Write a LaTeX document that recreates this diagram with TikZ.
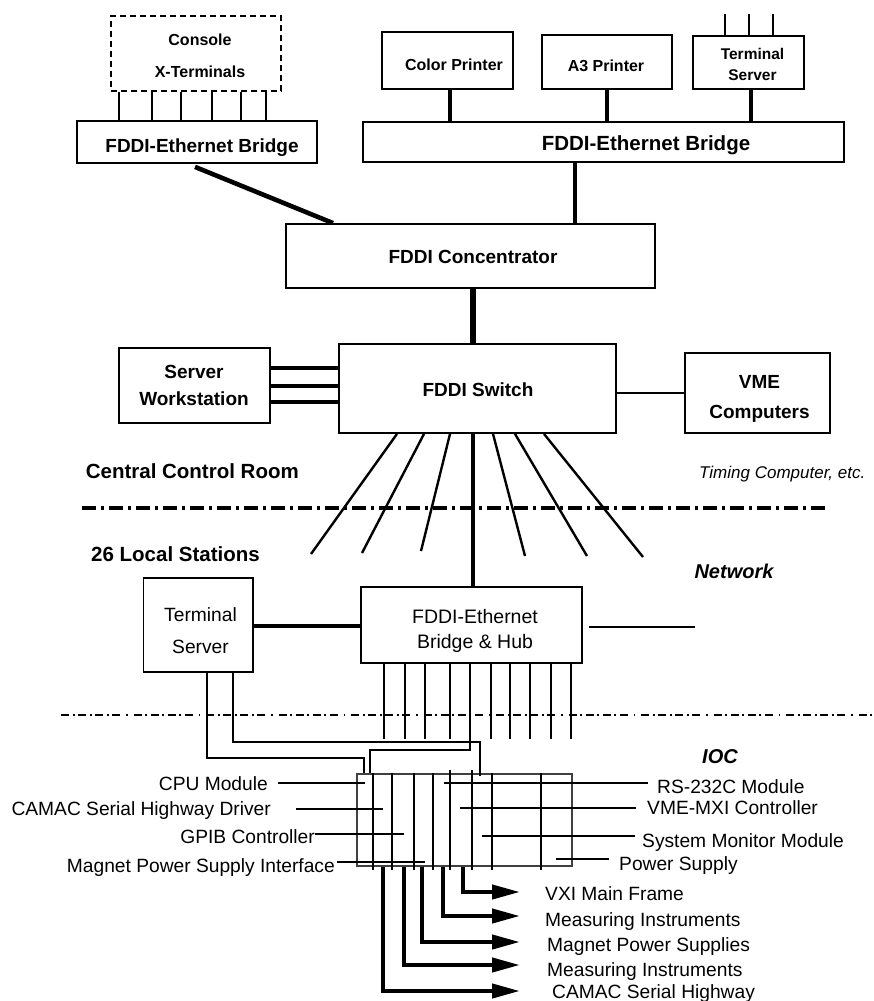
\documentclass[tikz,border=0pt]{standalone}
\usepackage{fontspec}
\setmainfont{Liberation Sans}
\usetikzlibrary{arrows.meta}
\newcommand\fsz[1]{\fontsize{#1}{#1}\selectfont}

\begin{document}
\begin{tikzpicture}[x=1pt,y=-1pt,
  box/.style={draw, line width=1.8pt, inner sep=0pt},
  tx/.style={inner sep=0pt, anchor=base},
  bt/.style={tx, font=\bfseries\fsz{#1}},
  bit/.style={tx, font=\bfseries\itshape\fsz{#1}},
  rt/.style={tx, font=\fsz{#1}},
  heavy/.style={line width=4.2pt},
  wire/.style={line width=2pt},
  fine/.style={line width=2pt},
  outarrow/.style={line width=4.2pt, -{Triangle[length=28pt,width=14pt]}},
]
\useasboundingbox (0,0) rectangle (874,1001);

% ---------------- console side ----------------
\node[box, dash pattern=on 6pt off 4pt, minimum width=170pt, minimum height=75pt] (console) at (196,53.5) {};
\node[bt=16] (consoleA) at (200,45.7) {Console};
\node[bt=16] (consoleB) at (200,77.7) {X-Terminals};
\node[box, minimum width=240pt, minimum height=42pt] (lbridge) at (197,142) {};
\node[bt=19] (lbridgeT) at (202,152.5) {FDDI-Ethernet Bridge};
\foreach \x in {119,152,181,212,241,266}
  \draw[wire] (console.south -| \x,0) -- (lbridge.north -| \x,0);

% ---------------- printers and terminal server ----------------
\node[box, minimum width=131pt, minimum height=57pt] (cprinter) at (447.5,60.5) {};
\node[bt=16] (cprinterT) at (454,70.7) {Color Printer};
\node[box, minimum width=130pt, minimum height=54pt] (athree) at (607,62) {};
\node[bt=16] (athreeT) at (606,71.5) {A3 Printer};
\node[box, minimum width=111pt, minimum height=53pt] (tserv) at (748.5,62.5) {};
\node[bt=15.5] (tservA) at (752.5,59) {Terminal};
\node[bt=15.5] (tservB) at (752.5,80) {Server};
\foreach \x in {725,749,773}
  \draw[wire] (tserv.north -| \x,0) -- ++(0,-21);
\node[box, minimum width=481pt, minimum height=40pt] (rbridge) at (603.5,142) {};
\node[bt=20.5] (rbridgeT) at (646,150) {FDDI-Ethernet Bridge};
\draw[heavy] (cprinter.south -| 450,0) -- (rbridge.north -| 450,0);
\draw[heavy] (athree.south) -- (rbridge.north -| athree.south);
\draw[heavy] (tserv.south -| 751,0) -- (rbridge.north -| 751,0);

% ---------------- concentrator and switch ----------------
\node[box, minimum width=369pt, minimum height=64pt] (conc) at (470.5,256) {};
\node[bt=19] (concT) at (473,263.5) {FDDI Concentrator};
\draw[heavy] (rbridge.south -| 575,0) -- (conc.north -| 575,0);
\draw[line width=4.6pt] (lbridge.south) ++(-2,3) -- (conc.north -| 333,0);

\node[box, minimum width=277pt, minimum height=89pt] (switch) at (477.5,388.5) {};
\node[bt=19] (switchT) at (478,396.5) {FDDI Switch};
\draw[line width=5.5pt] (conc.south -| 473,0) -- (switch.north -| 473,0);

\node[box, minimum width=151pt, minimum height=75pt] (server) at (194.5,385.5) {};
\node[bt=19] (serverA) at (194,378.3) {Server};
\node[bt=19] (serverB) at (194,405) {Workstation};
\foreach \y in {368,386,402}
  \draw[heavy] (server.east |- 0,\y) -- (switch.west |- 0,\y);

\node[box, minimum width=145pt, minimum height=80pt] (vme) at (757.5,393) {};
\node[bt=19] (vmeA) at (759.5,388.3) {VME};
\node[bt=19] (vmeB) at (759.5,418.3) {Computers};
\draw[wire] (switch.east |- 0,393) -- (vme.west |- 0,393);

% ---------------- room labels and network fan-out ----------------
\node[bt=20.5, anchor=base east] (ccr) at (299,478.5) {Central Control Room};
\node[tx, font=\itshape\fsz{17}, anchor=base west] (timing) at (699,478.3) {Timing Computer, etc.};
\draw[line width=3.2pt, dash pattern=on 14pt off 5pt on 3pt off 5pt] (82,508) -- (825,508);
\node[bt=20.5, anchor=base east] (lstat) at (260,561.7) {26 Local Stations};
\node[bit=20] (network) at (734,578.3) {Network};

\coordinate (f1) at (311,554);
\coordinate (f2) at (362,553);
\coordinate (f3) at (421,551);
\coordinate (f4) at (525,556);
\coordinate (f5) at (587,556);
\coordinate (f6) at (643,557);
\foreach \t/\e in {397/f1,424/f2,450/f3,493/f4,515/f5,544/f6}
  \draw[line width=2.4pt] (switch.south -| \t,0) -- (\e);

% ---------------- local station ----------------
\node[box, minimum width=109.5pt, minimum height=94pt] (tsl) at (198.25,625) {};
\node[rt=19.2] (tslA) at (200.5,621.7) {Terminal};
\node[rt=19.2] (tslB) at (200.5,653.3) {Server};
\node[box, minimum width=221pt, minimum height=76pt] (hub) at (471.5,625) {};
\node[rt=19.5] (hubA) at (475,623.3) {FDDI-Ethernet};
\node[rt=19.5] (hubB) at (475,648.3) {Bridge \& Hub};
\draw[line width=4.8pt] (switch.south -| 473,0) -- (hub.north -| 473,0);
\draw[line width=3.6pt] (tsl.east |- 0,626) -- (hub.west |- 0,626);
\coordinate (hubout) at (695,627);
\draw[line width=2.4pt] (hub.east |- hubout) ++(6,0) -- (hubout);
\foreach \x in {383.5,405,425.4,450.3,490.7,510.4,529.8,550.8,570.5}
  \draw[wire] (hub.south -| \x,0) -- ++(0,75);

\draw[line width=1.8pt, dash pattern=on 8pt off 3.5pt on 2pt off 3.5pt on 8pt off 3.5pt on 2pt off 3.5pt on 8pt off 3.5pt on 2pt off 3.5pt on 8pt off 6pt on 1.5pt off 6pt] (61,715) -- (874,715);

% ---------------- IOC ----------------
\node[bit=20] (iocT) at (720,763.3) {IOC};
\node[draw=black!75, line width=1.5pt, inner sep=0pt, minimum width=215pt, minimum height=92pt] (ioc) at (464.5,820) {};
\foreach \x in {372.7,392.3,414.3,432.7,491.5,540.5}
  \draw[fine] (ioc.north -| \x,0) -- (ioc.south -| \x,0) -- ++(0,3);
\foreach \x in {450,472.3}
  \draw[fine] (ioc.north -| \x,0) ++(0,-3) -- (ioc.south -| \x,0) -- ++(0,3);

\draw[wire] (tsl.south -| 207,0) |- (364,758) -- (ioc.north -| 364,0);
\draw[wire] (tsl.south -| 232.5,0) |- (480,742) -- (ioc.north -| 480,0) -- ++(0,3);
\draw[wire] (hub.south -| 470,0) -- (470,750) -| (ioc.north -| 369.7,0);

% module labels, left
\node[rt=19.2, anchor=base east] (cpu) at (268,790) {CPU Module};
\node[rt=19.2, anchor=base east] (camacd) at (271,815.7) {CAMAC Serial Highway Driver};
\node[rt=19.2, anchor=base east] (gpib) at (315,843.5) {GPIB Controller};
\node[rt=19.2, anchor=base east] (mpsi) at (335,872) {Magnet Power Supply Interface};
\coordinate (cpuE) at (365,783);
\coordinate (camacdE) at (383,809);
\coordinate (gpibE) at (404,834);
\coordinate (mpsiE) at (425,862);
\draw[wire] (cpu.east |- cpuE) ++(10,0) -- (cpuE);
\draw[wire] (camacd.east |- camacdE) ++(25,0) -- (camacdE);
\draw[wire] (gpib.east |- gpibE) -- (gpibE);
\draw[wire] (mpsi.east |- mpsiE) ++(2,0) -- (mpsiE);

% module labels, right
\node[rt=19.2, anchor=base west] (rs) at (657,793.5) {RS-232C Module};
\node[rt=19.2, anchor=base west] (mxi) at (647,814) {VME-MXI Controller};
\node[rt=19.2, anchor=base west] (sysmon) at (642,847) {System Monitor Module};
\node[rt=19.2, anchor=base west] (psu) at (619,870.5) {Power Supply};
\coordinate (rsE) at (444,783);
\coordinate (mxiE) at (460,808);
\coordinate (sysmonE) at (482,836);
\coordinate (psuE) at (556,859);
\draw[wire] (rs.west |- rsE) ++(-9,0) -- (rsE);
\draw[wire] (mxi.west |- mxiE) ++(-11,0) -- (mxiE);
\draw[wire] (sysmon.west |- sysmonE) ++(-7,0) -- (sysmonE);
\draw[wire] (psu.west |- psuE) ++(-10,0) -- (psuE);

% ---------------- field connections ----------------
\node[rt=19.2, anchor=base west] (vxi) at (545,900.7) {VXI Main Frame};
\node[rt=19.2, anchor=base west] (measA) at (545,926) {Measuring Instruments};
\node[rt=19.2, anchor=base west] (magps) at (547,951.7) {Magnet Power Supplies};
\node[rt=19.2, anchor=base west] (measB) at (547,976.7) {Measuring Instruments};
\node[rt=19.2, anchor=base west] (camacsh) at (552,998) {CAMAC Serial Highway};
\coordinate (tipA) at (520,892);
\coordinate (tipB) at (520,916);
\coordinate (tipC) at (520,942);
\coordinate (tipD) at (520,965);
\coordinate (tipE) at (520,991);
\draw[outarrow] (ioc.south -| 463.3,0) |- (tipA);
\draw[outarrow] (ioc.south -| 442.7,0) |- (tipB);
\draw[outarrow] (ioc.south -| 422.3,0) |- (tipC);
\draw[outarrow] (ioc.south -| 404,0) |- (tipD);
\draw[outarrow] (ioc.south -| 383.3,0) |- (tipE);
\end{tikzpicture}
\end{document}
